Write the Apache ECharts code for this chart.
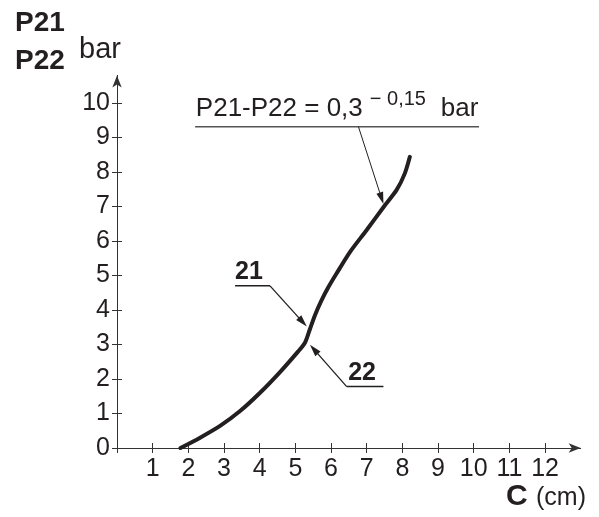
<!DOCTYPE html>
<html><head><meta charset="utf-8">
<script src="https://cdn.jsdelivr.net/npm/echarts@6/dist/echarts.min.js"></script>
<style>html,body{margin:0;padding:0;background:#fff}#c{width:599px;height:517px}</style>
</head><body><div id="c"></div>
<script>
// ---- data ----
const xTicks = [0,1,2,3,4,5,6,7,8,9,10,11,12];
const xLabels = [1,2,3,4,5,6,7,8,9,10,11,12];
const yTicks = [0,1,2,3,4,5,6,7,8,9,10];
const yLabels = [0,1,2,3,4,5,6,7,8,9,10];
const curveC = [1.78, 2.33, 2.89, 3.45, 4.01, 4.57, 5.08, 5.27, 5.41, 5.55, 5.72, 5.92, 6.15, 6.53, 7.0, 7.47, 7.84, 8.07, 8.21];
const curveP = [0, 0.30, 0.64, 1.07, 1.60, 2.20, 2.80, 3.05, 3.45, 3.85, 4.25, 4.65, 5.05, 5.68, 6.32, 6.98, 7.48, 7.96, 8.44];
const eqMain = 'P21-P22 = 0,3';
const eqSup = '\u2212 0,15';
const eqUnit = 'bar';
const label21 = '21';
const label22 = '22';

// annotation anchors (data space)
const ann = {
  eqText: [2.21, 9.83],
  eqLine: [[2.19, 9.31], [10.15, 9.31]],
  eqLeader: [[6.77, 9.31], [7.47, 7.07]],
  t21: [3.31, 5.09],
  l21Line: [[3.31, 4.70], [4.29, 4.70]],
  l21Leader: [[4.29, 4.70], [5.32, 3.52]],
  t22: [6.48, 2.16],
  l22Line: [[6.44, 1.78], [7.47, 1.78]],
  l22Leader: [[6.44, 1.78], [5.41, 2.99]]
};

const FONT = '"Liberation Sans", Arial, Helvetica, sans-serif';
const INK = '#231f20';
const AX = '#333';

const chart = echarts.init(document.getElementById('c'));
const baseX = {type:'value', min:0, max:13, splitLine:{show:false}};
const baseY = {type:'value', min:0, max:10.8, splitLine:{show:false}};
chart.setOption({
  animation:false,
  backgroundColor:'#fff',
  grid:{left:117, right:18.3, top:75.4, bottom:69},
  xAxis:[
    Object.assign({}, baseX, {
      position:'bottom',
      axisLine:{show:true, lineStyle:{color:AX, width:1}, symbol:['none','arrow'], symbolSize:[7,12]},
      axisTick:{show:true, inside:false, length:5, customValues:xTicks, lineStyle:{color:AX}},
      axisLabel:{show:true, customValues:xLabels, margin:9, fontSize:25, color:INK, fontFamily:FONT}
    }),
    Object.assign({}, baseX, {
      position:'bottom',
      axisLine:{show:false},
      axisTick:{show:true, inside:true, length:5, customValues:xTicks, lineStyle:{color:AX}},
      axisLabel:{show:false}
    })
  ],
  yAxis:[
    Object.assign({}, baseY, {
      position:'left',
      axisLine:{show:true, lineStyle:{color:AX, width:1}, symbol:['none','arrow'], symbolSize:[7,12]},
      axisTick:{show:true, inside:false, length:5, customValues:yTicks, lineStyle:{color:AX}},
      axisLabel:{show:true, customValues:yLabels, margin:7, fontSize:25, color:INK, fontFamily:FONT}
    }),
    Object.assign({}, baseY, {
      position:'left',
      axisLine:{show:false},
      axisTick:{show:true, inside:true, length:5, customValues:yTicks, lineStyle:{color:AX}},
      axisLabel:{show:false}
    })
  ],
  series:[{
    type:'line',
    xAxisIndex:0, yAxisIndex:0,
    data: curveC.map((c,i)=>[c, curveP[i]]),
    smooth:0.25,
    showSymbol:false,
    lineStyle:{color:INK, width:4, cap:'round'}
  }]
});

function px(p){ return chart.convertToPixel({xAxisIndex:0, yAxisIndex:0}, p); }
function seg(a, b, w, color){
  const A = px(a), B = px(b);
  return {type:'line', shape:{x1:A[0], y1:A[1], x2:B[0], y2:B[1]}, style:{stroke:color, lineWidth:w}, silent:true};
}
function arrow(a, b, w){
  const A = px(a), B = px(b);
  const dx = B[0]-A[0], dy = B[1]-A[1];
  const L = Math.hypot(dx, dy), ux = dx/L, uy = dy/L;
  const len = 12, hw = 3.5;
  const bx = B[0]-ux*len, by = B[1]-uy*len;
  return [
    {type:'line', shape:{x1:A[0], y1:A[1], x2:bx+ux*2, y2:by+uy*2}, style:{stroke:INK, lineWidth:w}, silent:true},
    {type:'polygon', shape:{points:[[B[0],B[1]],[bx-uy*hw, by+ux*hw],[bx+uy*hw, by-ux*hw]]}, style:{fill:INK}, silent:true}
  ];
}
function text(x, y, s, size, weight){
  return {type:'text', x:x, y:y, style:{text:s, fontSize:size, fontWeight:weight||'normal', fontFamily:FONT, fill:INK, verticalAlign:'middle', align:'left'}, silent:true};
}
const eqP = px(ann.eqText), p21 = px(ann.t21), p22 = px(ann.t22);
const g = [];
g.push(text(15, 23, 'P21', 28, 'bold'));
g.push(text(15, 61, 'P22', 28, 'bold'));
g.push(text(79, 50, 'bar', 29));
g.push(text(506, 497, 'C', 30, 'bold'));
g.push(text(536, 498, '(cm)', 25));
g.push(text(eqP[0], eqP[1], eqMain, 26));
g.push(text(eqP[0]+174, eqP[1]-9, eqSup, 20));
g.push(text(eqP[0]+245, eqP[1], eqUnit, 26));
g.push(seg(ann.eqLine[0], ann.eqLine[1], 1.5, '#555'));
g.push(...arrow(ann.eqLeader[0], ann.eqLeader[1], 1));
g.push(text(p21[0], p21[1], label21, 25, 'bold'));
g.push(seg(ann.l21Line[0], ann.l21Line[1], 1.5, INK));
g.push(...arrow(ann.l21Leader[0], ann.l21Leader[1], 1.3));
g.push(text(p22[0], p22[1], label22, 25, 'bold'));
g.push(seg(ann.l22Line[0], ann.l22Line[1], 1.5, INK));
g.push(...arrow(ann.l22Leader[0], ann.l22Leader[1], 1.3));
chart.setOption({graphic:{elements:g}});
</script></body></html>
